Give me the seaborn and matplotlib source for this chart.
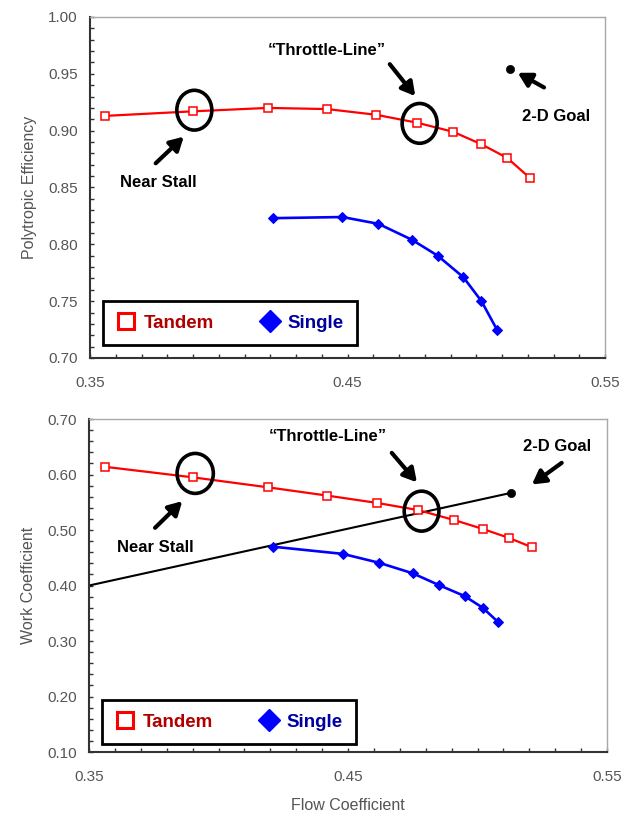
import matplotlib
matplotlib.use("Agg")
import matplotlib.pyplot as plt
from matplotlib.patches import Ellipse
from matplotlib.lines import Line2D
from matplotlib.ticker import MultipleLocator, FormatStrFormatter
import seaborn as sns

# Compressor performance: tandem vs single blade rows
flow_tandem = [0.356, 0.390, 0.419, 0.442, 0.461, 0.477, 0.491, 0.502, 0.512, 0.521]
eff_tandem = [0.913, 0.917, 0.920, 0.919, 0.914, 0.907, 0.899, 0.888, 0.876, 0.858]
work_tandem = [0.614, 0.595, 0.577, 0.562, 0.549, 0.536, 0.518, 0.502, 0.486, 0.469]

flow_single = [0.421, 0.448, 0.462, 0.475, 0.485, 0.495, 0.502, 0.508]
eff_single = [0.823, 0.824, 0.818, 0.804, 0.790, 0.771, 0.750, 0.725]
work_single = [0.470, 0.457, 0.441, 0.422, 0.401, 0.381, 0.360, 0.334]

goal_flow = 0.513
goal_eff = 0.954
goal_work = 0.567
throttle_flow = [0.35, goal_flow]
throttle_work = [0.400, goal_work]

x_ticks = [0.35, 0.45, 0.55]

sns.set_style("white")
plt.rcParams["font.family"] = ["Liberation Sans", "DejaVu Sans"]

TICK_GRAY = "#555555"
RED = "#FF0000"
BLUE = "#0000FF"

fig = plt.figure(figsize=(6.3, 8.13), dpi=100)
ax_top = fig.add_axes([0.1429, 0.5597, 0.8175, 0.4194])
ax_bot = fig.add_axes([0.1413, 0.0750, 0.8222, 0.4096])


def style_axes(ax, ylim, ymajor, yminor):
    ax.set_xlim(0.35, 0.55)
    ax.set_ylim(*ylim)
    ax.set_xticks(x_ticks)
    ax.xaxis.set_major_formatter(FormatStrFormatter("%.2f"))
    ax.xaxis.set_minor_locator(MultipleLocator(0.01))
    ax.yaxis.set_major_locator(MultipleLocator(ymajor))
    ax.yaxis.set_minor_locator(MultipleLocator(yminor))
    ax.yaxis.set_major_formatter(FormatStrFormatter("%.2f"))
    ax.tick_params(which="both", direction="in", length=3, width=1,
                   color="#333333", left=True, bottom=True, top=False, right=False)
    ax.tick_params(axis="x", which="major", labelsize=11, labelcolor=TICK_GRAY, pad=13)
    ax.tick_params(axis="y", which="major", labelsize=11, labelcolor=TICK_GRAY, pad=9)
    for side in ("left", "bottom"):
        ax.spines[side].set_color("#333333")
        ax.spines[side].set_linewidth(1.5)
    for side in ("top", "right"):
        ax.spines[side].set_color("#A8A8A8")
        ax.spines[side].set_linewidth(1.0)


def draw_series(ax, yt, ys):
    sns.lineplot(x=flow_tandem, y=yt, ax=ax, color=RED, linewidth=1.6,
                 marker="s", markersize=6, markerfacecolor="white",
                 markeredgecolor=RED, markeredgewidth=1.1, legend=False)
    sns.lineplot(x=flow_single, y=ys, ax=ax, color=BLUE, linewidth=1.9,
                 marker="D", markersize=5, markerfacecolor=BLUE,
                 markeredgecolor=BLUE, legend=False)


def add_legend(ax, y0):
    handles = [
        Line2D([], [], linestyle="none", marker="s", markersize=11,
               markerfacecolor="white", markeredgecolor=RED, markeredgewidth=2.2),
        Line2D([], [], linestyle="none", marker="D", markersize=11,
               markerfacecolor=BLUE, markeredgecolor=BLUE),
    ]
    leg = ax.legend(handles, ["Tandem", "Single"], ncol=2, loc="lower left",
                    bbox_to_anchor=(0.026, y0), borderaxespad=0,
                    prop={"weight": "bold", "size": 13.5},
                    handlelength=1.0, handletextpad=0.45, columnspacing=2.45,
                    borderpad=0.72, frameon=True, fancybox=False, shadow=False)
    frame = leg.get_frame()
    frame.set_edgecolor("black")
    frame.set_linewidth(2.0)
    frame.set_facecolor("white")
    frame.set_alpha(1.0)
    leg.get_texts()[0].set_color("#B00000")
    leg.get_texts()[1].set_color("#0000A0")


def ring(ax, cx, cy, w, h):
    ax.add_patch(Ellipse((cx, cy), w, h, fill=False, edgecolor="black",
                         linewidth=2.6, zorder=5))


def arrow(ax, start, end):
    ax.annotate("", xy=end, xytext=start,
                arrowprops=dict(arrowstyle="-|>,head_length=0.8,head_width=0.45",
                                color="black", lw=3.0, shrinkA=0, shrinkB=0),
                zorder=6)


def label(ax, x, y, s):
    ax.text(x, y, s, ha="center", va="center", fontsize=12,
            fontweight="bold", color="black", zorder=6)


# --- Efficiency map ---
style_axes(ax_top, (0.70, 1.00), 0.05, 0.01)
draw_series(ax_top, eff_tandem, eff_single)
sns.scatterplot(x=[goal_flow], y=[goal_eff], ax=ax_top, color="black",
                s=35, edgecolor="black", legend=False, zorder=4)
ring(ax_top, 0.3905, 0.918, 0.0136, 0.035)
ring(ax_top, 0.478, 0.9064, 0.0136, 0.035)
arrow(ax_top, (0.4664, 0.9585), (0.4763, 0.9304))
label(ax_top, 0.4419, 0.9708, "\u201cThrottle-Line\u201d")
arrow(ax_top, (0.3755, 0.8713), (0.3864, 0.8947))
label(ax_top, 0.3766, 0.8544, "Near Stall")
arrow(ax_top, (0.5263, 0.938), (0.5161, 0.9509))
label(ax_top, 0.531, 0.9123, "2-D Goal")
add_legend(ax_top, 0.038)
ax_top.set_ylabel("Polytropic Efficiency", fontsize=11.5, color=TICK_GRAY, labelpad=8)

# --- Work coefficient map ---
style_axes(ax_bot, (0.10, 0.70), 0.10, 0.02)
sns.lineplot(x=throttle_flow, y=throttle_work, ax=ax_bot, color="black",
             linewidth=1.5, legend=False)
sns.scatterplot(x=[goal_flow], y=[goal_work], ax=ax_bot, color="black",
                s=35, edgecolor="black", legend=False, zorder=4)
draw_series(ax_bot, work_tandem, work_single)
ring(ax_bot, 0.391, 0.602, 0.014, 0.072)
ring(ax_bot, 0.4784, 0.534, 0.0134, 0.072)
arrow(ax_bot, (0.4669, 0.639), (0.4766, 0.586))
label(ax_bot, 0.4422, 0.668, "\u201cThrottle-Line\u201d")
arrow(ax_bot, (0.3755, 0.504), (0.386, 0.552))
label(ax_bot, 0.3755, 0.468, "Near Stall")
arrow(ax_bot, (0.5325, 0.621), (0.521, 0.582))
label(ax_bot, 0.5306, 0.651, "2-D Goal")
add_legend(ax_bot, 0.023)
ax_bot.set_ylabel("Work Coefficient", fontsize=11.5, color=TICK_GRAY, labelpad=8)
ax_bot.set_xlabel("Flow Coefficient", fontsize=11.5, color=TICK_GRAY, labelpad=10)

fig.savefig("out.png", dpi=100)
